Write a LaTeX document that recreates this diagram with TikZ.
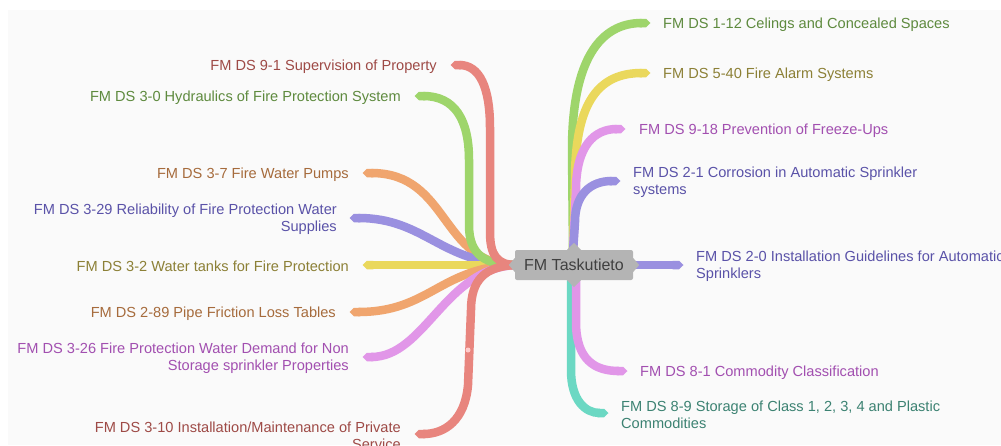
\documentclass[tikz,border=0pt]{standalone}
\usepackage{fontspec}
\setmainfont{Liberation Sans}
\usetikzlibrary{arrows.meta}
\definecolor{bgc}{HTML}{FAFAFA}
\definecolor{boxc}{HTML}{B4B4B4}
\definecolor{boxt}{HTML}{404040}
\definecolor{lred}{HTML}{E8857E}\definecolor{tred}{HTML}{9E4A46}
\definecolor{lgreen}{HTML}{9ED56B}\definecolor{tgreen}{HTML}{5E8A3E}
\definecolor{lorange}{HTML}{F0A56E}\definecolor{torange}{HTML}{A66B3C}
\definecolor{lpurple}{HTML}{9A90E0}\definecolor{tpurple}{HTML}{5A52A8}
\definecolor{lyellow}{HTML}{EAD85C}\definecolor{tyellow}{HTML}{8C8036}
\definecolor{lpink}{HTML}{E196E8}\definecolor{tpink}{HTML}{A24FB0}
\definecolor{lteal}{HTML}{6BD8C3}\definecolor{tteal}{HTML}{3C8272}
\begin{document}
\begin{tikzpicture}[x=1pt,y=-1pt,
  br/.style={line width=8.5pt,line cap=butt,-{Triangle Cap[length=4.5pt]}},
  lbl/.style={inner sep=0pt,yshift=-1.5pt,font=\fontsize{14.6}{16.8}\selectfont},
  lft/.style={lbl,anchor=east,align=right},
  rgt/.style={lbl,anchor=west,align=left},
  notch/.style={fill=boxc}]
\useasboundingbox (0,0) rectangle (1001,445);
\clip (0,0) rectangle (1001,445);
\fill[white] (0,0) rectangle (1001,445);
\fill[bgc] (8,10) rectangle (1001,445);

% centre anchors
\coordinate (cL) at (516,265);
\coordinate (cT) at (573,252);
\coordinate (cB) at (573,279);
\coordinate (cR) at (630,265);

% branch ends
\coordinate (e1) at (450.5,65);
\coordinate (e2) at (414.5,96);
\coordinate (e3) at (362.5,173);
\coordinate (e4) at (349.5,218);
\coordinate (e5) at (362.5,265);
\coordinate (e6) at (349.5,312);
\coordinate (e7) at (362.5,357);
\coordinate (e8) at (414.5,434);
\coordinate (f1) at (650.5,23);
\coordinate (f2) at (650.5,73);
\coordinate (f3) at (625.5,129);
\coordinate (f4) at (620.5,181);
\coordinate (f5) at (683.5,265);
\coordinate (f6) at (627.5,371);
\coordinate (f7) at (608.5,413);

% left branches
\draw[br,lorange] (cL) .. controls (440,265) and (450,173) .. (e3);
\draw[br,lpurple] (cL) .. controls (440,263) and (425,218) .. (e4);
\draw[br,lyellow] (cL) -- (e5);
\draw[br,lorange] (cL) .. controls (440,267) and (430,312) .. (e6);
\draw[br,lpink] (cL) .. controls (445,268) and (425,357) .. (e7);
\draw[br,lgreen] (cL) .. controls (485,265) and (469,255) .. (469,225) -- (469,160) .. controls (469,120) and (455,96) .. (e2);
\draw[br,lred] (cL) .. controls (497,265) and (490,255) .. (490,232) -- (490,128) .. controls (490,88) and (480,65) .. (e1);
\draw[br,lred] (cL) .. controls (485,266) and (471,280) .. (471,310) -- (468,385) .. controls (465,420) and (445,434) .. (e8);
\fill[red!20!white] (468,350) circle (2.5);

% right branches
\draw[br,lgreen] (cT) -- (572,150) .. controls (572,60) and (600,23) .. (f1);
\draw[br,lyellow] (cT) -- (575,180) .. controls (575,100) and (600,73) .. (f2);
\draw[br,lpink] (cT) -- (576,190) .. controls (576,145) and (595,129) .. (f3);
\draw[br,lpurple] (cT) -- (575,222) .. controls (575,195) and (590,181) .. (f4);
\draw[br,lpurple] (cR) -- (f5);
\draw[br,lteal] (571,279) -- (571,370) .. controls (571,400) and (585,413) .. (f7);
\draw[br,lpink] (576,279) -- (576,322) .. controls (576,360) and (595,371) .. (f6);

% centre
\node[fill=boxc,rounded corners=2pt,minimum width=118pt,minimum height=30pt,inner sep=0pt,
      text=boxt,font=\fontsize{16}{18}\selectfont] (c) at (574,265) {FM Taskutieto};
\fill[notch] ([yshift=7pt]c.west) -- ([xshift=-6pt]c.west) -- ([yshift=-7pt]c.west) -- cycle;
\fill[notch] ([yshift=7pt]c.east) -- ([xshift=6pt]c.east) -- ([yshift=-7pt]c.east) -- cycle;
\fill[notch] ([xshift=-7pt]c.north) -- ([yshift=7pt]c.north) -- ([xshift=7pt]c.north) -- cycle;
\fill[notch] ([xshift=-7pt]c.south) -- ([yshift=-7pt]c.south) -- ([xshift=7pt]c.south) -- cycle;

% labels
\node[lft,text=tred]    (l1) at (437,65)  {FM DS 9-1 Supervision of Property};
\node[lft,text=tgreen]  (l2) at (401,96)  {FM DS 3-0 Hydraulics of Fire Protection System};
\node[lft,text=torange] (l3) at (349,173) {FM DS 3-7 Fire Water Pumps};
\node[lft,text=tpurple] (l4) at (337,218) {FM DS 3-29 Reliability of Fire Protection Water\\Supplies};
\node[lft,text=tyellow] (l5) at (349,265) {FM DS 3-2 Water tanks for Fire Protection};
\node[lft,text=torange] (l6) at (336,312) {FM DS 2-89 Pipe Friction Loss Tables};
\node[lft,text=tpink]   (l7) at (349,357) {FM DS 3-26 Fire Protection Water Demand for Non\\Storage sprinkler Properties};
\node[lft,text=tred]    (l8) at (401,434) {FM DS 3-10 Installation/Maintenance of Private\\Service};

\node[rgt,text=tgreen]  (r1) at (663,23)  {FM DS 1-12 Celings and Concealed Spaces};
\node[rgt,text=tyellow] (r2) at (663,73)  {FM DS 5-40 Fire Alarm Systems};
\node[rgt,text=tpink]   (r3) at (639,129) {FM DS 9-18 Prevention of Freeze-Ups};
\node[rgt,text=tpurple] (r4) at (633,181) {FM DS 2-1 Corrosion in Automatic Sprinkler\\systems};
\node[rgt,text=tpurple] (r5) at (696,265) {FM DS 2-0 Installation Guidelines for Automatic\\Sprinklers};
\node[rgt,text=tpink]   (r6) at (640,371) {FM DS 8-1 Commodity Classification};
\node[rgt,text=tteal]   (r7) at (621,413) {FM DS 8-9 Storage of Class 1, 2, 3, 4 and Plastic\\Commodities};
\end{tikzpicture}
\end{document}
